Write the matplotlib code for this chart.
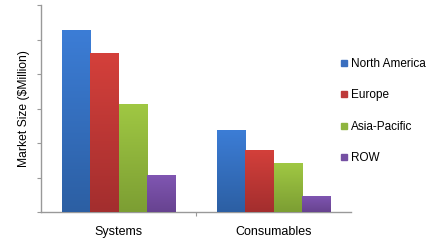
import matplotlib
matplotlib.use("Agg")
import matplotlib.pyplot as plt
import numpy as np
from matplotlib.colors import LinearSegmentedColormap
from matplotlib.lines import Line2D

plt.rcParams['font.family'] = ['Liberation Sans', 'DejaVu Sans']

categories = ["Systems", "Consumables"]
regions = ["North America", "Europe", "Asia-Pacific", "ROW"]
values = {
    "North America": [5.27, 2.37],
    "Europe": [4.60, 1.80],
    "Asia-Pacific": [3.14, 1.41],
    "ROW": [1.07, 0.47],
}
top_colors = ["#3C7DD6", "#D4403B", "#A0C843", "#8056B2"]
bottom_colors = ["#2C5FA3", "#A32E2E", "#7C9E33", "#674390"]
legend_colors = ["#3A6FBF", "#BE3A3A", "#8FB53F", "#7550A3"]

fig = plt.figure(figsize=(4.4, 2.43), dpi=100)
ax = fig.add_axes([41/440, 1-212/243, 310/440, 207/243])

x = np.arange(len(categories))
w = 0.182
offsets = (np.arange(len(regions)) - 1.5) * w
grad = np.linspace(1, 0, 256).reshape(-1, 1)
for i, r in enumerate(regions):
    bars = ax.bar(x + offsets[i], values[r], width=w, color=legend_colors[i], zorder=2)
    cmap = LinearSegmentedColormap.from_list(r, [bottom_colors[i], top_colors[i]])
    for b in bars:
        x0, h = b.get_x(), b.get_height()
        im = ax.imshow(grad, extent=(x0, x0 + b.get_width(), 0, h), cmap=cmap,
                       aspect='auto', zorder=3, origin='upper')
        im.set_clip_path(b)

ax.set_xlim(-0.5, 1.5)
ax.set_ylim(0, 6)
ax.set_yticks(np.arange(0, 7, 1))
ax.set_yticklabels([])
ax.set_xticks([0.5])
ax.set_xticklabels([])
ax.set_xticks(x, minor=True)
ax.set_xticklabels(categories, minor=True, fontsize=9)
ax.tick_params(axis='x', which='minor', length=0, pad=10)
ax.tick_params(axis='x', which='major', length=3, direction='out', color='#999999')
ax.tick_params(axis='y', length=3, direction='out', color='#999999')
for s in ['top', 'right']:
    ax.spines[s].set_visible(False)
for s in ['left', 'bottom']:
    ax.spines[s].set_color('#999999')
    ax.spines[s].set_linewidth(1.0)
ax.set_ylabel("Market Size ($Million)", fontsize=8.7)
ax.yaxis.set_label_coords(-11/310, 0.5)

handles = [Line2D([0], [0], marker='s', linestyle='none', markersize=5,
                  markerfacecolor=c, markeredgecolor=c) for c in legend_colors]
fig.legend(handles, regions, loc='upper left', bbox_to_anchor=(333/440, 1-53/243),
           frameon=False, fontsize=8.5, labelspacing=1.65, handletextpad=0.1,
           handlelength=1.0, borderaxespad=0)

fig.savefig("out.png", dpi=100)
